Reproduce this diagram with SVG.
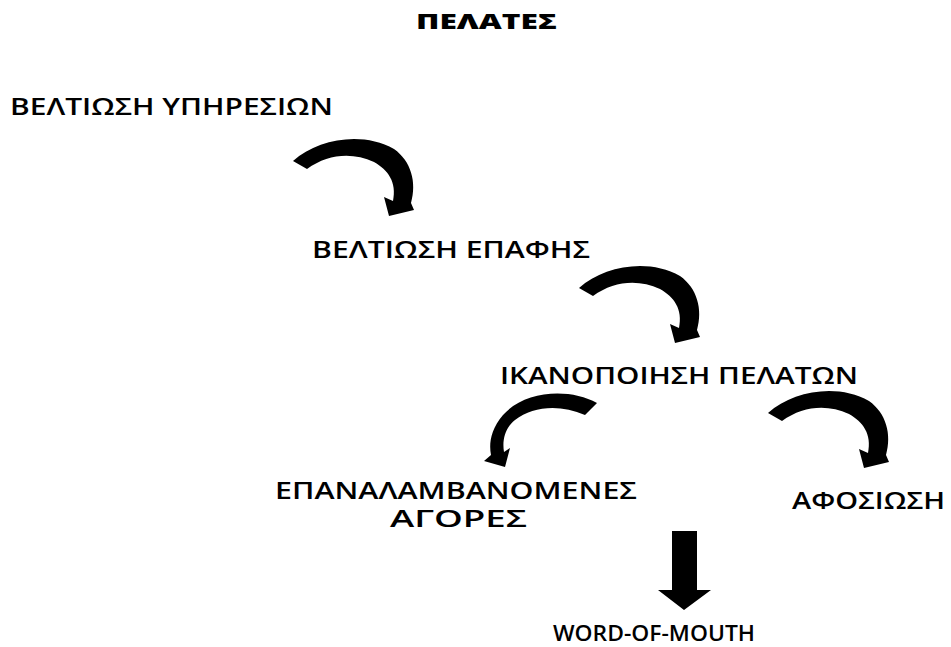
<svg xmlns="http://www.w3.org/2000/svg" width="951" height="647" viewBox="0 0 951 647">
  <style>
    .lbl { font-family: "Open Sans", "Liberation Sans", "DejaVu Sans", sans-serif; font-size: 23px; font-weight: 600; fill: #000; }
    .small { font-size: 22px; }
    .title { font-family: "Open Sans", "Liberation Sans", "DejaVu Sans", sans-serif; font-size: 21px; font-weight: 800; fill: #000; }
    .arrow { fill: #000; stroke: none; }
  </style>
  <defs>
    <!-- curved block arrow turning clockwise, drawn in place for the first step -->
    <path id="curl" class="arrow" d="M293,161 C318,139 362,131 394,149 C411,161 417,182 411,203 L414,210 L389,216 L384,197 L393,201 C397,182 388,170 374,162 C352,152 328,154 307,169 Z"/>
  </defs>
  <rect width="951" height="647" fill="#fff"/>

  <g id="title">
    <text class="title" x="416" y="29" textLength="141" lengthAdjust="spacingAndGlyphs">ΠΕΛΑΤΕΣ</text>
  </g>

  <g id="connectors">
    <use href="#curl"/>
    <use href="#curl" transform="translate(286,127)"/>
    <use href="#curl" transform="translate(475,252)"/>
    <!-- anticlockwise curl towards repeat purchases -->
    <path class="arrow" d="M597,403 C570,388 525,390 503,415 C490,430 489,445 491,455 L484,461 L505,467 L510,448 L504,452 C502,440 505,428 515,420 C533,406 560,404 585,415 Z"/>
    <!-- straight down arrow -->
    <path class="arrow" d="M672,531 L697,531 L697,590 L711,590 L684,610 L658,590 L672,590 Z"/>
  </g>

  <g id="n-services">
    <text class="lbl" x="10" y="115" textLength="323" lengthAdjust="spacingAndGlyphs">ΒΕΛΤΙΩΣΗ ΥΠΗΡΕΣΙΩΝ</text>
  </g>
  <g id="n-contact">
    <text class="lbl" x="312" y="258" textLength="278" lengthAdjust="spacingAndGlyphs">ΒΕΛΤΙΩΣΗ ΕΠΑΦΗΣ</text>
  </g>
  <g id="n-satisfaction">
    <text class="lbl" x="500" y="384" textLength="358" lengthAdjust="spacingAndGlyphs">ΙΚΑΝΟΠΟΙΗΣΗ ΠΕΛΑΤΩΝ</text>
  </g>
  <g id="n-repeat">
    <text class="lbl" x="275" y="499" textLength="362" lengthAdjust="spacingAndGlyphs">ΕΠΑΝΑΛΑΜΒΑΝΟΜΕΝΕΣ</text>
    <text class="lbl" x="390" y="527" textLength="137" lengthAdjust="spacingAndGlyphs">ΑΓΟΡΕΣ</text>
  </g>
  <g id="n-loyalty">
    <text class="lbl" x="792" y="509" textLength="153" lengthAdjust="spacingAndGlyphs">ΑΦΟΣΙΩΣΗ</text>
  </g>
  <g id="n-wom">
    <text class="lbl small" x="553" y="641" textLength="202" lengthAdjust="spacingAndGlyphs">WORD-OF-MOUTH</text>
  </g>
</svg>
